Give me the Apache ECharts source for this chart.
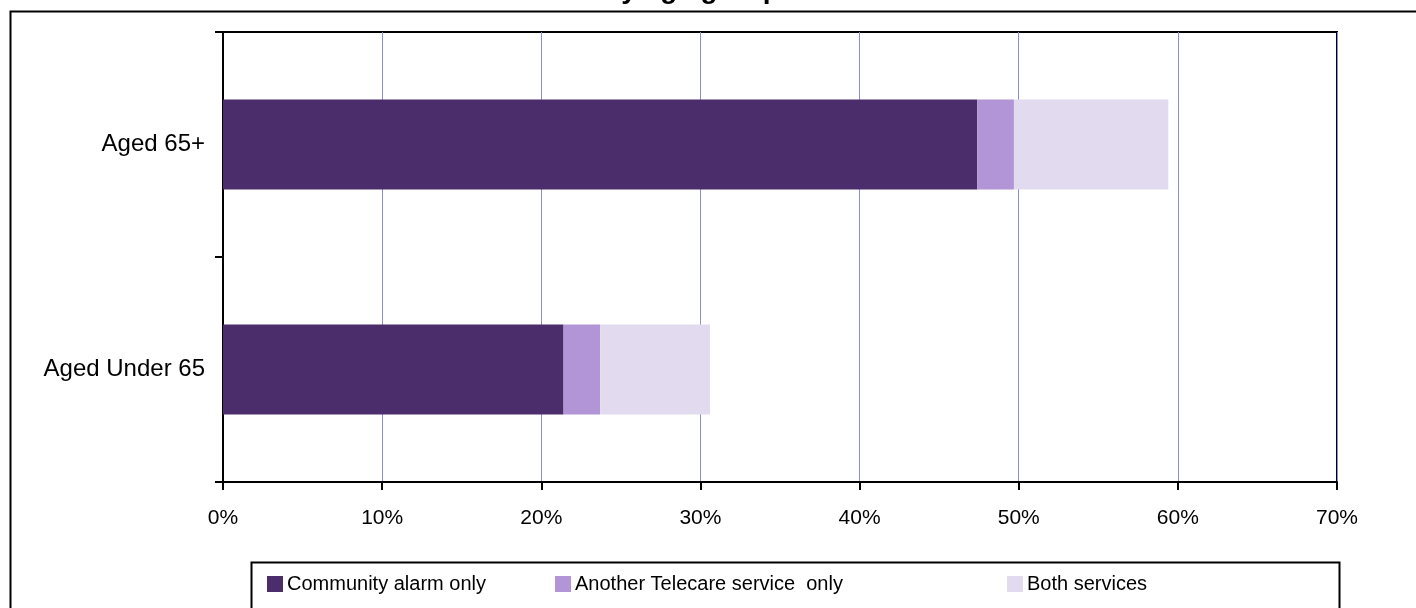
<!DOCTYPE html>
<html>
<head>
<meta charset="utf-8">
<script src="https://cdn.jsdelivr.net/npm/echarts@6/dist/echarts.min.js"></script>
<style>
html,body{margin:0;padding:0;background:#fff;}
#chart{width:1416px;height:608px;}
</style>
</head>
<body>
<div id="chart"></div>
<script>
const categories = ['Aged Under 65', 'Aged 65+'];
const communityAlarmOnly = [21.4, 47.4];
const anotherTelecareOnly = [2.3, 2.3];
const bothServices = [6.9, 9.7];
const seriesNames = ['Community alarm only', 'Another Telecare service  only', 'Both services'];
const titleTail = 'by age group';

const chart = echarts.init(document.getElementById('chart'));
const font = 'Arial, "Liberation Sans", sans-serif';
const legendCommon = {
  top: 569, itemWidth: 16, itemHeight: 16, icon: 'rect', itemGap: 4,
  textStyle: { fontFamily: font, fontSize: 20, color: '#000', padding: [0, 0, 0, -1] }
};
chart.setOption({
  animation: false,
  graphic: [
    { type: 'rect', shape: { x: 10.5, y: 11.5, width: 1420, height: 620 }, style: { fill: 'none', stroke: '#000', lineWidth: 2 }, silent: true },
    { type: 'rect', shape: { x: 251.5, y: 562.5, width: 1088, height: 60 }, style: { fill: 'none', stroke: '#000', lineWidth: 2 }, silent: true, z: 10 },
    { type: 'text', x: 692, y: 4, style: { text: titleTail, font: 'bold 28px ' + font, fill: '#000', align: 'center', verticalAlign: 'bottom' }, silent: true }
  ],
  legend: [
    Object.assign({ left: 262, data: [seriesNames[0]] }, legendCommon),
    Object.assign({ left: 550, data: [seriesNames[1]] }, legendCommon),
    Object.assign({ left: 1002, data: [seriesNames[2]] }, legendCommon)
  ],
  grid: { left: 223, top: 32, right: 79, bottom: 126, show: true, borderColor: '#000', borderWidth: 2, backgroundColor: 'transparent' },
  xAxis: {
    type: 'value', min: 0, max: 70, interval: 10,
    axisLine: { show: true, lineStyle: { color: '#000', width: 2 } },
    axisTick: { show: true, length: 8, lineStyle: { color: '#000', width: 2 } },
    axisLabel: { formatter: '{value}%', fontFamily: font, fontSize: 21, color: '#000', margin: 26 },
    splitLine: { show: true, lineStyle: { color: '#8c8cd8', width: 1 } }
  },
  yAxis: {
    type: 'category', data: categories,
    axisLine: { show: true, lineStyle: { color: '#000', width: 2 } },
    axisTick: { show: true, length: 8, lineStyle: { color: '#000', width: 2 } },
    axisLabel: { fontFamily: font, fontSize: 24, color: '#000', margin: 18 }
  },
  series: [
    { name: seriesNames[0], type: 'bar', stack: 's', data: communityAlarmOnly, barWidth: '40%', itemStyle: { color: '#4b2d6c' } },
    { name: seriesNames[1], type: 'bar', stack: 's', data: anotherTelecareOnly, itemStyle: { color: '#b195d6' } },
    { name: seriesNames[2], type: 'bar', stack: 's', data: bothServices, itemStyle: { color: '#e2dbef' } }
  ]
});
</script>
</body>
</html>
